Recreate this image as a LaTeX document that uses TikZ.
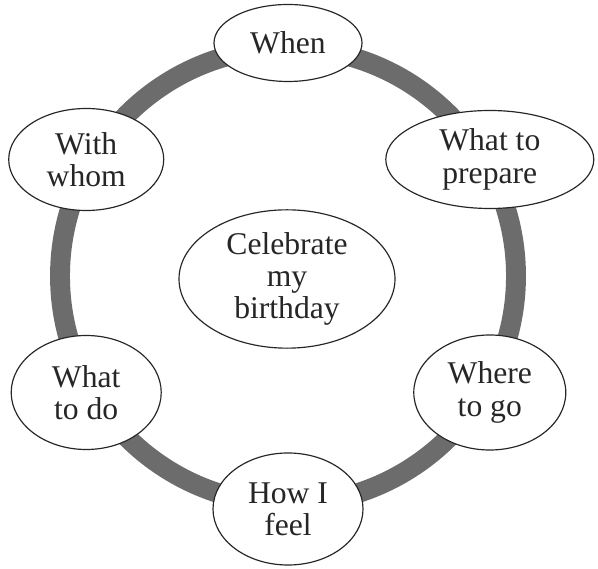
\documentclass[tikz,border=0pt]{standalone}
\usepackage{fontspec}
\setmainfont{Liberation Serif}
\usetikzlibrary{calc}
\usetikzlibrary{shapes.geometric}
\definecolor{ringgrey}{RGB}{108,108,108}
\definecolor{ink}{RGB}{38,38,38}

\begin{document}
\begin{tikzpicture}[x=0.03cm,y=0.03cm,
  topic/.style={ellipse,draw=ink,line width=1pt,fill=white,inner sep=0pt,
    align=center,text=ink,font=\fontsize{27}{27.5}\selectfont}]
\useasboundingbox (0,0) rectangle (598,568);
\coordinate (c) at (288,292);
\draw[ringgrey,line width=17pt] (c) circle (228);
\node[topic,minimum width=6.48cm,minimum height=4.15cm] (mid) at (287,289) {Celebrate\\my\\birthday};
\foreach \a/\t/\w/\h [count=\i] in {90/When/4.44/2.31,
    30/What to\\prepare/6.24/2.94, -30/Where\\to go/4.56/3.45,
    -90/How I\\feel/4.5/3.36, 210/What\\to do/4.5/3.42,
    150/With\\whom/4.65/3.06} {
  \node[topic,minimum width=\w cm,minimum height=\h cm] (t_\i) at ($(c)+(\a:233)$) {\t};
}
\end{tikzpicture}
\end{document}
